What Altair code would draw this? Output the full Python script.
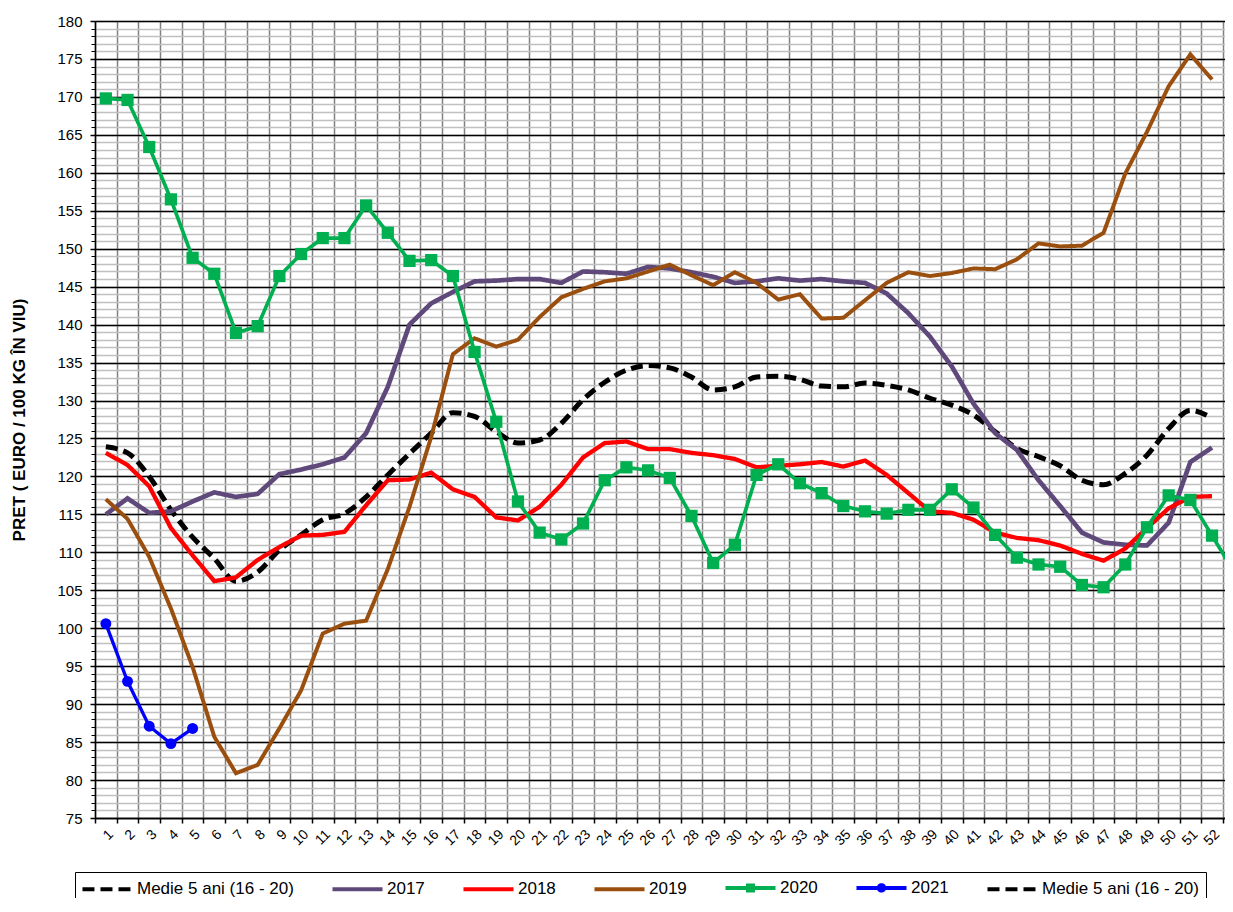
import altair as alt
import pandas as pd

weeks = list(range(1, 54))

medie = [123.9, 123.1, 120.0, 115.6, 112.0, 109.2, 106.2, 107.4, 110.3, 112.3,
         114.3, 115.1, 117.3, 120.2, 123.0, 125.7, 128.4, 127.9, 125.9, 124.4,
         124.8, 127.0, 130.1, 132.4, 134.0, 134.6, 134.3, 133.1, 131.4, 131.8,
         133.1, 133.2, 132.8, 131.9, 131.8, 132.3, 132.0, 131.4, 130.3, 129.4,
         128.1, 125.9, 123.7, 122.6, 121.4, 119.5, 118.9, 120.4, 122.8, 126.3,
         128.7, 127.7]

y2017 = [115.0, 117.1, 115.2, 115.4, 116.7, 117.9, 117.3, 117.7, 120.3, 120.9,
         121.6, 122.5, 125.7, 131.8, 140.0, 142.8, 144.3, 145.7, 145.8, 146.0,
         146.0, 145.5, 147.0, 146.9, 146.7, 147.6, 147.4, 146.9, 146.3, 145.5,
         145.7, 146.1, 145.8, 146.0, 145.7, 145.5, 144.1, 141.5, 138.4, 134.5,
         129.6, 125.7, 123.5, 119.5, 116.1, 112.6, 111.3, 111.0, 110.9, 113.9,
         121.9, 123.8]

y2018 = [123.1, 121.5, 118.7, 113.2, 109.6, 106.2, 106.7, 109.0, 110.7, 112.2,
         112.3, 112.7, 116.2, 119.5, 119.6, 120.5, 118.3, 117.3, 114.6, 114.2,
         116.0, 118.9, 122.5, 124.4, 124.6, 123.6, 123.6, 123.1, 122.8, 122.3,
         121.2, 121.4, 121.6, 121.9, 121.3, 122.1, 120.2, 117.8, 115.4, 115.2,
         114.3, 112.6, 111.9, 111.6, 110.9, 109.8, 108.9, 110.5, 113.2, 115.8,
         117.3, 117.4]

y2019 = [117.0, 114.4, 109.4, 102.6, 94.9, 85.7, 80.9, 82.0, 86.8, 91.8,
         99.3, 100.6, 101.0, 107.8, 116.0, 125.2, 136.1, 138.2, 137.1, 138.0,
         141.0, 143.6, 144.7, 145.7, 146.1, 147.0, 147.9, 146.5, 145.2, 146.9,
         145.5, 143.3, 144.0, 140.8, 140.9, 143.2, 145.5, 146.9, 146.4, 146.8,
         147.4, 147.3, 148.6, 150.7, 150.3, 150.4, 152.1, 159.9, 165.4, 171.4,
         175.6, 172.3]

y2020 = [169.8, 169.6, 163.4, 156.5, 148.8, 146.7, 138.9, 139.8, 146.4, 149.3,
         151.4, 151.4, 155.7, 152.1, 148.4, 148.5, 146.4, 136.4, 127.2, 116.7,
         112.6, 111.7, 113.8, 119.5, 121.2, 120.8, 119.8, 114.8, 108.6, 111.0,
         120.2, 121.6, 119.1, 117.8, 116.1, 115.4, 115.1, 115.6, 115.6, 118.3,
         115.9, 112.3, 109.3, 108.4, 108.1, 105.7, 105.4, 108.4, 113.3, 117.5,
         116.9, 112.2, 107.5]

y2021 = [100.6, 93.0, 87.1, 84.8, 86.8]

MEDIE = "Medie 5 ani (16 - 20)"
series = {MEDIE: medie, "2017": y2017, "2018": y2018, "2019": y2019,
          "2020": y2020, "2021": y2021}
legend_domain = [MEDIE, "2017", "2018", "2019", "2020", "2021", MEDIE + " "]
colors = ["#000000", "#5F497A", "#FF0000", "#9B4F0F", "#00B050", "#0000FF", "#000000"]
dashes = [[12, 6], [1, 0], [1, 0], [1, 0], [1, 0], [1, 0], [12, 6]]
widths = [5, 3, 3, 3, 5, 5, 5]

# legend symbol shapes (unit paths): a line, with a marker for 2020 / 2021
LINE = "M-4.17,0H4.17"
SQ = LINE + "M-0.42,-0.42H0.42V0.42H-0.42Z"
CI = LINE + "M-0.45,0A0.45,0.45 0 1,0 0.45,0A0.45,0.45 0 1,0 -0.45,0Z"
legend_shapes = [LINE, LINE, LINE, LINE, SQ, CI, LINE]

rows = []
for name, vals in series.items():
    for i, v in enumerate(vals):
        rows.append({"week": weeks[i], "value": v, "series": name})
df = pd.DataFrame(rows)

BAND = 21.69
PLOT_W = 1130
x_scale = alt.Scale(domain=[0.5, 0.5 + PLOT_W / BAND], nice=False, zero=False)
x_axis = alt.Axis(title=None, values=[w - 0.5 for w in weeks], grid=True,
                  gridColor="#808080", gridWidth=1.5, domainColor="black",
                  domainWidth=1.5, tickColor="black", tickSize=5, tickWidth=1.5,
                  labelAngle=-45, labelFontSize=14, labelFont="Liberation Sans",
                  labelColor="black", labelOverlap=False, labelFlush=False,
                  labelPadding=4, labelOffset=BAND / 2, labelSeparation=0,
                  labelExpr="format(datum.value + 0.5, 'd')")
x_enc = alt.X("week:Q", scale=x_scale, axis=x_axis)
y_scale = alt.Scale(domain=[75, 180], nice=False, zero=False)

legend = alt.Legend(
    title=None, orient="none", legendX=-20, legendY=851,
    direction="horizontal", columns=7, symbolSize=144, symbolStrokeWidth=4,
    symbolOpacity=1, symbolOffset=17, labelOffset=21, labelFontSize=17,
    labelFont="Liberation Sans", labelColor="black", columnPadding=30,
    strokeColor="black", padding=7, fillColor="white", labelLimit=400,
)

minor_axis = alt.Axis(values=list(range(75, 181)), grid=True, gridColor="#C0C0C0",
                      gridWidth=1.5, labels=False, domain=False, tickColor="black",
                      tickSize=4, title=None, orient="left")
major_axis = alt.Axis(values=list(range(75, 181, 5)), grid=True, gridColor="black",
                      gridWidth=1.5, domainColor="black", domainWidth=1.5,
                      tickColor="black", tickSize=5, tickWidth=1.5, labelFontSize=15,
                      labelFont="Liberation Sans", labelColor="black", labelPadding=8,
                      title="PRET ( EURO / 100 KG ÎN VIU)", titleFontSize=17,
                      titleFont="Liberation Sans", titleFontWeight="bold",
                      titleColor="black", titlePadding=28, orient="left")


def line_encoding(axis):
    return dict(
        x=x_enc,
        y=alt.Y("value:Q", scale=y_scale, axis=axis),
        color=alt.Color("series:N", scale=alt.Scale(domain=legend_domain, range=colors), legend=None),
        strokeDash=alt.StrokeDash("series:N", scale=alt.Scale(domain=legend_domain, range=dashes), legend=None),
        strokeWidth=alt.StrokeWidth("series:N", scale=alt.Scale(domain=legend_domain, range=widths), legend=None),
    )


avg_layer = alt.Chart(df[df.series == MEDIE]).mark_line(interpolate="monotone").encode(
    **line_encoding(minor_axis)
)
solid_layer = alt.Chart(df[df.series != MEDIE]).mark_line().encode(
    detail="series:N", **line_encoding(major_axis)
)
sq_layer = alt.Chart(df[df.series == "2020"]).mark_square(size=150, opacity=1, color="#00B050").encode(
    x=x_enc, y=alt.Y("value:Q", scale=y_scale, axis=None),
)
ci_layer = alt.Chart(df[df.series == "2021"]).mark_circle(size=120, opacity=1, color="#0000FF").encode(
    x=x_enc, y=alt.Y("value:Q", scale=y_scale, axis=None),
)
# invisible points whose only role is to carry the legend
legend_layer = alt.Chart(df).mark_point(filled=False, opacity=0).encode(
    x=x_enc, y=alt.Y("value:Q", scale=y_scale, axis=None),
    color=alt.Color("series:N", scale=alt.Scale(domain=legend_domain, range=colors), legend=legend),
    strokeDash=alt.StrokeDash("series:N", scale=alt.Scale(domain=legend_domain, range=dashes), legend=legend),
    shape=alt.Shape("series:N", scale=alt.Scale(domain=legend_domain, range=legend_shapes), legend=legend),
)

chart = alt.layer(avg_layer, solid_layer, sq_layer, ci_layer, legend_layer).resolve_axis(
    y="independent"
).resolve_scale(
    color="independent", strokeDash="independent", strokeWidth="independent", shape="independent"
).properties(
    width=PLOT_W, height=797,
    autosize=alt.AutoSizeParams(type="none"),
    padding={"left": 87, "top": 13, "right": 0, "bottom": 80},
).configure_view(stroke=None).configure_axis(labelOverlap=False).configure(background="white")

chart.save("out.html", embed_options={"renderer": "svg", "actions": False})
